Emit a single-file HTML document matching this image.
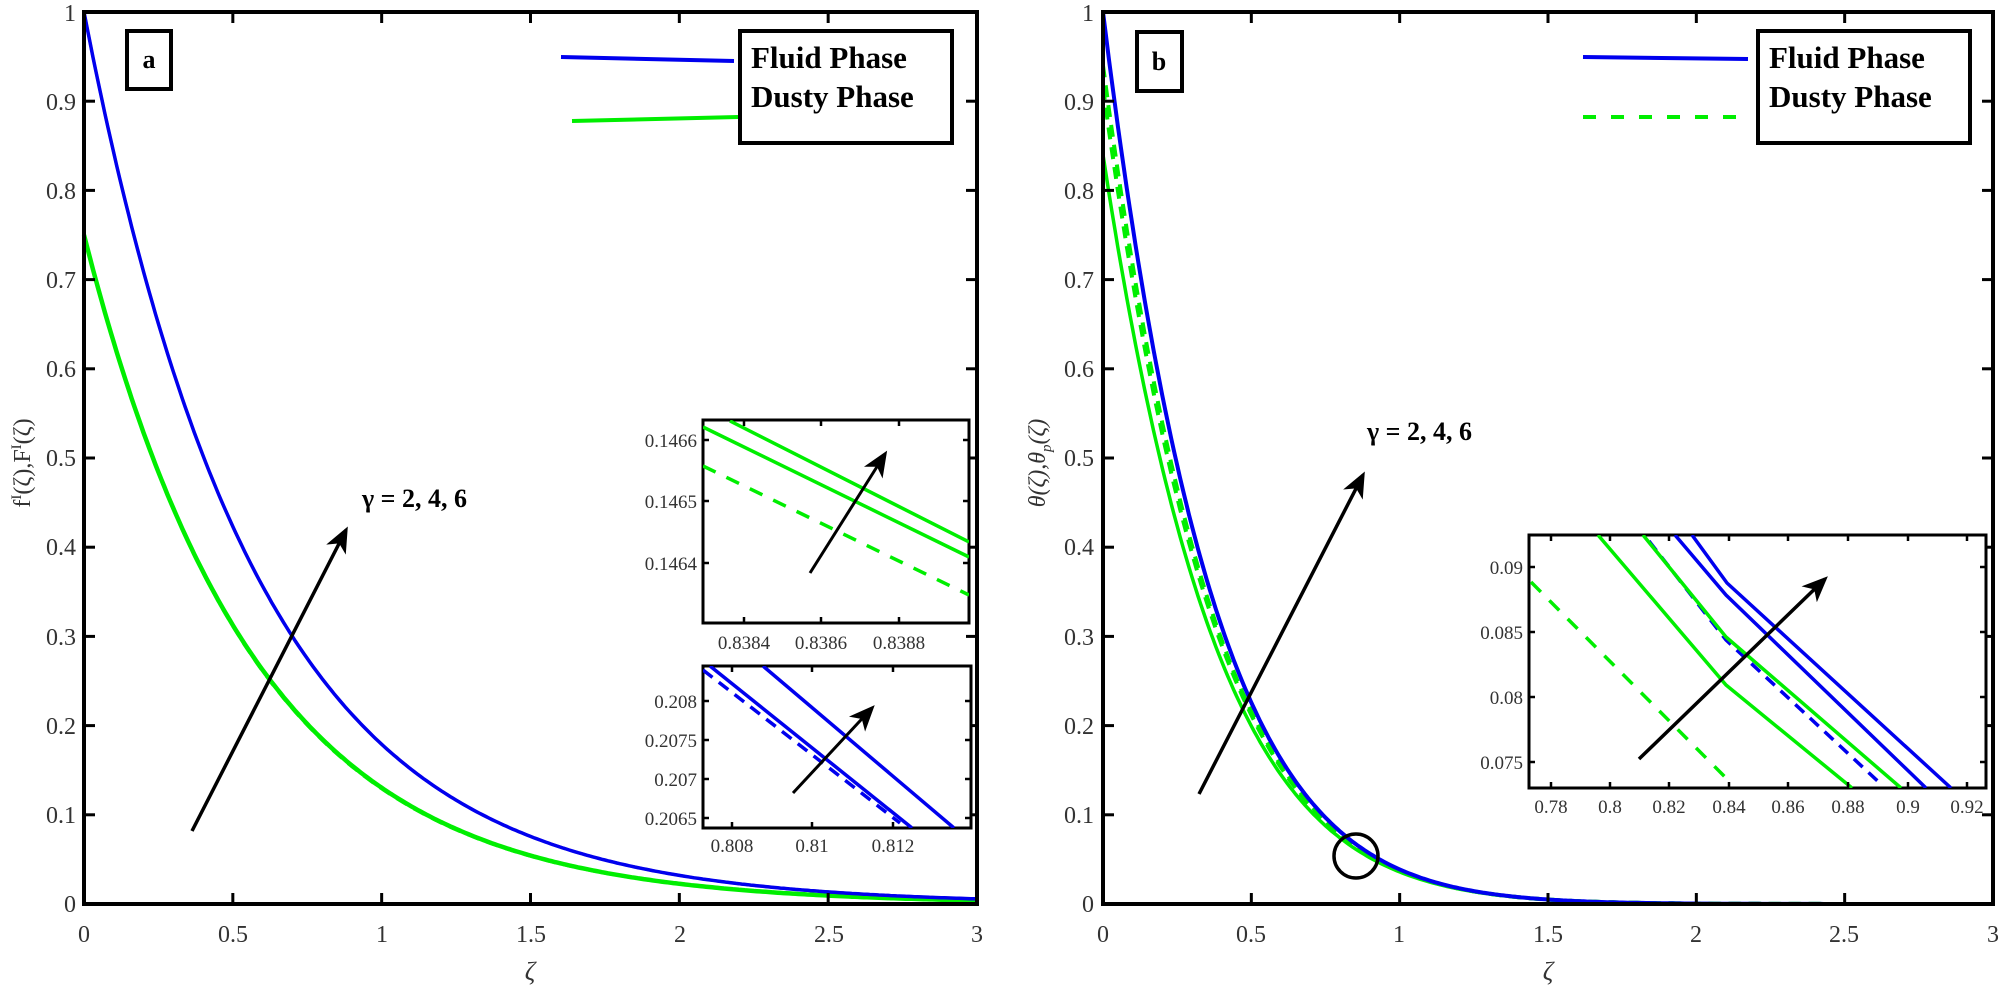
<!DOCTYPE html>
<html><head><meta charset="utf-8"><style>
html,body{margin:0;padding:0;background:#fff;}
svg{display:block;font-family:"Liberation Serif",serif;}
.t{font-size:24px;fill:#333;}
.ti{font-size:19px;fill:#333;}
.lg{font-size:31px;font-weight:bold;fill:#000;}
.gm{font-size:26px;font-weight:bold;fill:#000;}
</style></head><body>
<svg id="s" width="2000" height="988" viewBox="0 0 2000 988" xmlns="http://www.w3.org/2000/svg">
<defs>
<marker id="ah2" markerWidth="26" markerHeight="26" refX="22" refY="13" orient="auto" markerUnits="userSpaceOnUse" viewBox="0 0 26 26">
<path d="M0,2 L26,13 L0,24 L7,13 z" fill="#000"/></marker>
<clipPath id="c1"><rect x="703" y="420" width="266" height="203"/></clipPath>
<clipPath id="c2"><rect x="703" y="666" width="268" height="162"/></clipPath>
<clipPath id="c3"><rect x="1529" y="535" width="457" height="253"/></clipPath>
</defs>
<g id="curves"></g>

<!-- LEFT AXES -->
<rect x="84" y="12" width="893" height="892" fill="none" stroke="#000" stroke-width="4"/>
<g id="lt" stroke="#000" stroke-width="3"></g>
<g class="t" text-anchor="end">
<text x="76" y="912">0</text><text x="76" y="823">0.1</text><text x="76" y="734">0.2</text><text x="76" y="645">0.3</text><text x="76" y="555">0.4</text><text x="76" y="466">0.5</text><text x="76" y="377">0.6</text><text x="76" y="288">0.7</text><text x="76" y="199">0.8</text><text x="76" y="110">0.9</text><text x="76" y="21">1</text>
</g>
<g class="t" text-anchor="middle">
<text x="84" y="942">0</text><text x="233" y="942">0.5</text><text x="382" y="942">1</text><text x="531" y="942">1.5</text><text x="680" y="942">2</text><text x="829" y="942">2.5</text><text x="977" y="942">3</text>
<text x="530" y="980" font-style="italic" font-size="26">ζ</text>
</g>
<text class="t" transform="translate(30,463) rotate(-90)" text-anchor="middle" font-size="24">f<tspan font-size="15" dy="-9">I</tspan><tspan dy="9">(ζ),F</tspan><tspan font-size="15" dy="-9">I</tspan><tspan dy="9">(ζ)</tspan></text>
<rect x="127" y="31" width="44" height="58" fill="none" stroke="#000" stroke-width="4"/>
<text x="149" y="68" text-anchor="middle" font-size="26" font-weight="bold">a</text>
<rect x="740" y="31" width="212" height="112" fill="#fff" stroke="#000" stroke-width="4"/>
<text class="lg" x="751" y="68">Fluid Phase</text>
<text class="lg" x="751" y="107">Dusty Phase</text>
<line x1="561" y1="57" x2="734" y2="61" stroke="#0000ee" stroke-width="4"/>
<line x1="572" y1="121" x2="738" y2="117" stroke="#00ee00" stroke-width="4"/>
<line x1="192" y1="831" x2="346" y2="530" stroke="#000" stroke-width="3.5" marker-end="url(#ah2)"/>
<text class="gm" x="362" y="507">γ = 2, 4, 6</text>

<!-- inset 1 -->
<rect x="703" y="420" width="266" height="203" fill="#fff" stroke="#000" stroke-width="3"/>
<g clip-path="url(#c1)" stroke-width="3.5" fill="none">
<line x1="730" y1="421" x2="969" y2="542" stroke="#00ee00"/>
<line x1="703" y1="427" x2="969" y2="557" stroke="#00ee00"/>
<line x1="703" y1="466" x2="969" y2="595" stroke="#00ee00" stroke-dasharray="14,12"/>
</g>
<g stroke="#000" stroke-width="2.5">
<line x1="744" y1="420" x2="744" y2="426"/><line x1="821" y1="420" x2="821" y2="426"/><line x1="899" y1="420" x2="899" y2="426"/>
<line x1="744" y1="623" x2="744" y2="617"/><line x1="821" y1="623" x2="821" y2="617"/><line x1="899" y1="623" x2="899" y2="617"/>
<line x1="703" y1="440" x2="709" y2="440"/><line x1="703" y1="501" x2="709" y2="501"/><line x1="703" y1="563" x2="709" y2="563"/>
<line x1="969" y1="440" x2="963" y2="440"/><line x1="969" y1="501" x2="963" y2="501"/><line x1="969" y1="563" x2="963" y2="563"/>
</g>
<line x1="810" y1="573" x2="885" y2="454" stroke="#000" stroke-width="3" marker-end="url(#ah2)"/>
<g class="ti" text-anchor="end"><text x="697" y="447">0.1466</text><text x="697" y="508">0.1465</text><text x="697" y="570">0.1464</text></g>
<g class="ti" text-anchor="middle"><text x="744" y="649">0.8384</text><text x="821" y="649">0.8386</text><text x="899" y="649">0.8388</text></g>

<!-- inset 2 -->
<rect x="703" y="666" width="268" height="162" fill="#fff" stroke="#000" stroke-width="3"/>
<g clip-path="url(#c2)" stroke-width="3.5" fill="none" stroke="#0000ee">
<line x1="763" y1="666" x2="954" y2="828"/>
<line x1="710" y1="666" x2="912" y2="828"/>
<line x1="703" y1="670" x2="900" y2="823" stroke-dasharray="12,8"/>
</g>
<g stroke="#000" stroke-width="2.5">
<line x1="732" y1="666" x2="732" y2="672"/><line x1="812" y1="666" x2="812" y2="672"/><line x1="893" y1="666" x2="893" y2="672"/>
<line x1="732" y1="828" x2="732" y2="822"/><line x1="812" y1="828" x2="812" y2="822"/><line x1="893" y1="828" x2="893" y2="822"/>
<line x1="703" y1="701" x2="709" y2="701"/><line x1="703" y1="740" x2="709" y2="740"/><line x1="703" y1="779" x2="709" y2="779"/><line x1="703" y1="818" x2="709" y2="818"/>
<line x1="971" y1="701" x2="965" y2="701"/><line x1="971" y1="740" x2="965" y2="740"/><line x1="971" y1="779" x2="965" y2="779"/><line x1="971" y1="818" x2="965" y2="818"/>
</g>
<line x1="793" y1="793" x2="872" y2="708" stroke="#000" stroke-width="3" marker-end="url(#ah2)"/>
<g class="ti" text-anchor="end"><text x="697" y="708">0.208</text><text x="697" y="747">0.2075</text><text x="697" y="786">0.207</text><text x="697" y="825">0.2065</text></g>
<g class="ti" text-anchor="middle"><text x="732" y="852">0.808</text><text x="812" y="852">0.81</text><text x="893" y="852">0.812</text></g>

<!-- RIGHT AXES -->
<rect x="1103" y="12" width="890" height="892" fill="none" stroke="#000" stroke-width="4"/>
<g id="rt" stroke="#000" stroke-width="3"></g>
<g class="t" text-anchor="end">
<text x="1094" y="912">0</text><text x="1094" y="823">0.1</text><text x="1094" y="734">0.2</text><text x="1094" y="645">0.3</text><text x="1094" y="555">0.4</text><text x="1094" y="466">0.5</text><text x="1094" y="377">0.6</text><text x="1094" y="288">0.7</text><text x="1094" y="199">0.8</text><text x="1094" y="110">0.9</text><text x="1094" y="21">1</text>
</g>
<g class="t" text-anchor="middle">
<text x="1103" y="942">0</text><text x="1251" y="942">0.5</text><text x="1399" y="942">1</text><text x="1548" y="942">1.5</text><text x="1696" y="942">2</text><text x="1844" y="942">2.5</text><text x="1993" y="942">3</text>
<text x="1548" y="980" font-style="italic" font-size="26">ζ</text>
</g>
<text class="t" transform="translate(1045,463) rotate(-90)" text-anchor="middle" font-size="24" font-style="italic">θ(ζ),θ<tspan font-size="15" dy="6">p</tspan><tspan dy="-6">(ζ)</tspan></text>
<rect x="1137" y="32" width="45" height="59" fill="none" stroke="#000" stroke-width="4"/>
<text x="1159" y="70" text-anchor="middle" font-size="26" font-weight="bold">b</text>
<rect x="1758" y="31" width="212" height="112" fill="#fff" stroke="#000" stroke-width="4"/>
<text class="lg" x="1769" y="68">Fluid Phase</text>
<text class="lg" x="1769" y="107">Dusty Phase</text>
<line x1="1583" y1="57" x2="1748" y2="59" stroke="#0000ee" stroke-width="4"/>
<line x1="1583" y1="117" x2="1742" y2="117" stroke="#00ee00" stroke-width="4" stroke-dasharray="13,15"/>
<line x1="1199" y1="794" x2="1363" y2="475" stroke="#000" stroke-width="3.5" marker-end="url(#ah2)"/>
<text class="gm" x="1367" y="440">γ = 2, 4, 6</text>
<ellipse cx="1356" cy="856" rx="22" ry="22" fill="none" stroke="#000" stroke-width="3.5"/>

<!-- inset 3 -->
<rect x="1529" y="535" width="457" height="253" fill="#fff" stroke="#000" stroke-width="3"/>
<g clip-path="url(#c3)" stroke-width="3.5" fill="none">
<line x1="1531" y1="582" x2="1731" y2="783" stroke="#00ee00" stroke-dasharray="14,12"/>
<polyline points="1598,535 1726,685 1852,788" stroke="#00ee00"/>
<polyline points="1649,541 1726,640 1883,786" stroke="#0000ee" stroke-dasharray="12,8"/>
<polyline points="1643,535 1726,637 1901,788" stroke="#00ee00"/>
<polyline points="1675,535 1726,595 1926,788" stroke="#0000ee"/>
<polyline points="1692,535 1727,583 1951,788" stroke="#0000ee"/>
</g>
<g id="it3" stroke="#000" stroke-width="2.5"></g>
<line x1="1639" y1="759" x2="1825" y2="579" stroke="#000" stroke-width="3.5" marker-end="url(#ah2)"/>
<g class="ti" text-anchor="end"><text x="1523" y="574">0.09</text><text x="1523" y="639">0.085</text><text x="1523" y="704">0.08</text><text x="1523" y="769">0.075</text></g>
<g class="ti" text-anchor="middle" id="it3l"></g>
</svg>
<script>
(function(){
var NS="http://www.w3.org/2000/svg";
function el(p,t,a,txt){var e=document.createElementNS(NS,t);for(var k in a)e.setAttribute(k,a[k]);if(txt)e.textContent=txt;p.appendChild(e);return e;}
var cv=document.getElementById("curves");
function curve(x0,w,f,col,dash,sw){var d="";for(var i=0;i<=300;i++){var x=3*i/300;var X=x0+x/3*w;var Y=904-892*f(x);d+=(i?"L":"M")+X.toFixed(1)+","+Y.toFixed(1);}
var a={d:d,fill:"none",stroke:col,"stroke-width":sw||4};if(dash)a["stroke-dasharray"]=dash;el(cv,"path",a);}
// left
curve(84,893,function(x){return 0.75*Math.exp(-1.75*x);},"#00ee00",null,4.5);
curve(84,893,function(x){return 0.75*Math.exp(-1.76*x);},"#00ee00","12,8",3);
curve(84,893,function(x){return Math.exp(-1.72*x);},"#ee0000",null,3);
curve(84,893,function(x){return Math.exp(-1.72*x);},"#0000ee",null,3.5);
// right
function th(a,k){return function(x){return a*Math.exp(-k*x-0.55*x*x);};}
curve(1103,890,th(0.84,2.6),"#00ee00",null,3.5);
curve(1103,890,th(0.915,2.65),"#00ee00","12,8",4);
curve(1103,890,th(0.94,2.67),"#00ee00","12,8",4);
curve(1103,890,th(1,2.7),"#0000ee",null,4);
curve(1103,890,th(1,2.71),"#0000ee","12,10",3);
// ticks
var lt=document.getElementById("lt"),rt=document.getElementById("rt");
[[lt,84,977],[rt,1103,1993]].forEach(function(q){var g=q[0],a=q[1],b=q[2];
for(var i=0;i<=6;i++){var X=a+(b-a)*i/6;el(g,"line",{x1:X,y1:904,x2:X,y2:893});el(g,"line",{x1:X,y1:12,x2:X,y2:23});}
for(var j=0;j<=10;j++){var Y=904-89.2*j;el(g,"line",{x1:a,y1:Y,x2:a+11,y2:Y});el(g,"line",{x1:b,y1:Y,x2:b-11,y2:Y});}});
var it=document.getElementById("it3"),itl=document.getElementById("it3l");
var xs=[1551,1610,1669,1729,1788,1848,1908,1967],lb=["0.78","0.8","0.82","0.84","0.86","0.88","0.9","0.92"];
xs.forEach(function(X,i){el(it,"line",{x1:X,y1:535,x2:X,y2:541});el(it,"line",{x1:X,y1:788,x2:X,y2:782});el(itl,"text",{x:X,y:813},lb[i]);});
[567,632,697,762].forEach(function(Y){el(it,"line",{x1:1529,y1:Y,x2:1535,y2:Y});el(it,"line",{x1:1986,y1:Y,x2:1980,y2:Y});});
})();
</script>
</body></html>
